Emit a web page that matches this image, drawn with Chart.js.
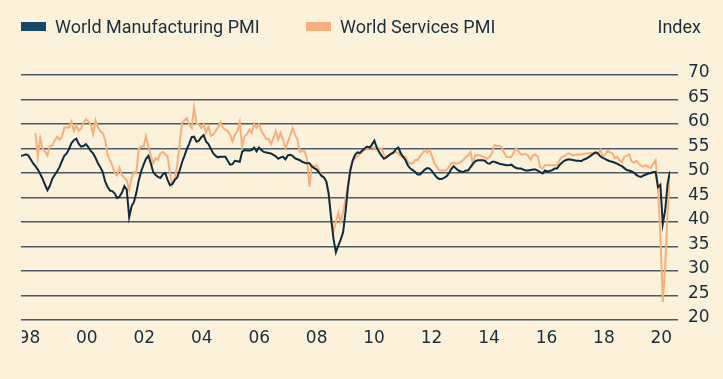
<!DOCTYPE html>
<html lang="en">

<head>
    <meta charset="UTF-8">
    <title>World Manufacturing and Services PMI</title>
    <script src="https://cdn.jsdelivr.net/npm/chart.js"></script>
    <style>
        body {
            margin: 0;
            background: #fcf2dc;
        }

        #wrap {
            position: relative;
            width: 723px;
            height: 379px;
        }

        .key {
            position: absolute;
            top: 16px;
            font-family: Roboto, sans-serif;
            font-size: 18px;
            line-height: 22px;
            color: #1b2e3f;
            white-space: nowrap;
        }

        .swatch {
            position: absolute;
            top: 22px;
            width: 25px;
            height: 9px;
        }
    </style>
</head>

<body>
    <div id="wrap">
        <canvas id="pmiChart" width="723" height="379"></canvas>
        <div class="swatch" style="left:21px;background:#17486a"></div>
        <div class="key" style="left:55px">World Manufacturing PMI</div>
        <div class="swatch" style="left:306px;background:#f7b07c"></div>
        <div class="key" style="left:340px">World Services PMI</div>
        <div class="key" style="right:22px">Index</div>
    </div>

    <script>
        // monthly values, Jan 1998 .. Jul 2020
        const mfgPmi = [
            53.5, 53.6, 53.8, 53.6, 52.8, 52.0, 51.4, 50.7, 49.8, 48.8, 47.6, 46.5,
            47.4, 48.8, 49.6, 50.3, 51.2, 52.4, 53.5, 54.0, 54.9, 56.1, 56.7, 57.0,
            56.0, 55.4, 55.5, 55.9, 55.3, 54.5, 54.0, 53.1, 52.0, 51.2, 50.2, 48.3,
            47.2, 46.4, 46.3, 45.8, 44.9, 45.2, 46.0, 47.3, 46.6, 41.0, 43.2, 44.1,
            46.0, 48.5, 50.3, 51.7, 52.9, 53.5, 52.0, 50.2, 49.6, 49.2, 49.0, 49.7,
            50.0, 48.6, 47.5, 47.8, 48.6, 49.1, 50.5, 52.2, 53.5, 54.9, 56.0, 57.3,
            57.4, 56.4, 56.6, 57.3, 57.7, 56.4, 55.9, 54.9, 54.0, 53.5, 53.2, 53.3,
            53.3, 53.3, 52.5, 51.7, 51.8, 52.5, 52.4, 52.3, 54.3, 54.7, 54.6, 54.6,
            54.7, 55.2, 54.4, 55.2, 54.7, 54.3, 54.2, 54.1, 54.0, 53.7, 53.4, 52.9,
            53.2, 53.3, 52.8, 53.6, 53.7, 53.5, 53.0, 52.8, 52.6, 52.3, 52.1, 52.0,
            52.0, 51.3, 51.0, 50.7, 50.1, 49.4, 49.1, 48.3, 45.8, 40.8, 36.6, 33.8,
            35.2, 36.4, 37.9, 42.0, 47.0, 50.5, 52.6, 53.7, 54.2, 54.1, 54.6, 55.0,
            55.4, 55.2, 55.8, 56.6, 55.2, 54.3, 53.5, 52.9, 53.2, 53.6, 53.9, 54.2,
            54.9, 55.2, 54.0, 53.3, 52.6, 51.5, 50.9, 50.6, 50.2, 49.7, 49.7, 50.2,
            50.7, 51.0, 50.9, 50.4, 49.7, 49.1, 48.8, 48.8, 49.0, 49.3, 49.9, 50.8,
            51.4, 50.9, 50.5, 50.3, 50.2, 50.5, 50.5, 51.2, 51.9, 52.4, 52.6, 52.6,
            52.6, 52.5, 52.0, 51.9, 52.3, 52.3, 52.1, 51.9, 51.8, 51.7, 51.6, 51.6,
            51.7, 51.3, 51.0, 50.9, 50.9, 50.7, 50.5, 50.5, 50.6, 50.7, 50.7, 50.5,
            50.2, 49.9, 50.5, 50.3, 50.4, 50.6, 50.9, 50.9, 51.6, 52.1, 52.5, 52.7,
            52.8, 52.7, 52.6, 52.5, 52.5, 52.4, 52.7, 52.9, 53.2, 53.5, 53.9, 54.2,
            54.0, 53.4, 53.1, 52.9, 52.6, 52.4, 52.3, 52.1, 51.9, 51.6, 51.4, 51.0,
            50.6, 50.5, 50.3, 50.1, 49.6, 49.3, 49.2, 49.5, 49.7, 49.9, 50.0, 50.2,
            50.2, 47.1, 47.6, 39.6, 42.4, 47.8, 50.3
        ];

        const servicesPmi = [
            null, null, null, null, null, null, 58.2, 53.4, 57.1, 54.9, 54.4, 53.6,
            55.5, 55.6, 56.6, 57.4, 56.8, 57.3, 59.3, 59.3, 59.3, 60.5, 58.6, 59.7,
            58.6, 59.1, 60.2, 61.0, 60.5, 59.9, 57.9, 60.8, 59.4, 58.5, 58.2, 56.8,
            53.8, 52.6, 51.5, 50.0, 49.5, 51.1, 49.5, 49.0, 48.5, 46.5, 49.0, 50.2,
            50.1, 55.0, 55.4, 55.4, 57.5, 55.4, 53.6, 52.0, 53.0, 52.7, 54.0, 54.3,
            53.8, 53.4, 49.8, 47.6, 49.0, 51.6, 56.0, 60.2, 60.7, 61.2, 59.9, 59.2,
            63.4, 60.2, 59.9, 59.2, 60.0, 58.2, 59.5, 57.6, 57.8, 58.6, 59.4, 60.4,
            59.3, 58.8, 58.6, 57.8, 56.5, 57.8, 58.5, 60.4, 55.2, 57.5, 57.9, 58.8,
            58.2, 60.0, 59.2, 60.0, 58.6, 57.8, 56.9, 57.0, 55.9, 57.1, 58.6, 56.8,
            58.2, 56.8, 55.1, 56.3, 57.7, 59.2, 57.8, 56.8, 54.3, 54.5, 54.4, 52.8,
            47.2, 51.6, 51.3, 51.6, 50.6, 49.6, 49.2, 48.3, 45.6, 41.5, 38.0, 40.0,
            41.9, 40.0, 42.0, 44.6, 47.5, 50.9, 52.4, 53.0, 53.4, 53.9, 54.4, 54.7,
            55.0, 55.2, 55.3, 55.1, 55.0, 55.0, 55.0, 53.6, 53.3, 53.5, 54.1, 54.2,
            54.3, 54.0, 53.5, 53.2, 53.3, 52.2, 51.9, 52.0, 52.7, 52.6, 53.4, 54.0,
            54.7, 54.2, 54.7, 53.4, 52.0, 51.3, 50.5, 50.5, 50.5, 50.6, 51.2, 52.0,
            52.1, 51.9, 52.0, 52.2, 52.7, 53.2, 53.6, 54.3, 51.8, 53.6, 53.6, 53.6,
            53.4, 53.2, 52.9, 53.3, 54.1, 55.7, 55.5, 55.5, 55.3, 54.1, 53.3, 53.2,
            53.3, 54.2, 55.0, 54.4, 53.8, 53.8, 53.9, 53.5, 52.7, 53.6, 53.8, 53.3,
            51.2, 50.9, 51.6, 51.6, 51.6, 51.6, 51.6, 51.6, 52.6, 53.3, 53.4, 53.8,
            54.0, 53.7, 53.6, 53.8, 53.8, 53.8, 53.9, 54.0, 54.0, 54.1, 54.0, 54.0,
            54.0, 54.7, 53.4, 53.7, 54.5, 54.2, 54.0, 53.0, 53.3, 52.6, 52.3, 53.3,
            53.5, 53.8, 52.4, 52.1, 52.5, 51.9, 51.5, 51.3, 51.6, 51.2, 51.0, 51.9,
            52.6, 47.1, 37.0, 23.7, 31.0, 42.0, 50.3
        ];

        const yearLabels = ['98', '00', '02', '04', '06', '08', '10', '12', '14', '16', '18', '20'];

        const textColor = '#1b2e3f';
        const bgColor = '#fcf2dc';

        // the reference crops the first year label at the plot edge
        const clipLeft = {
            id: 'clipLeft',
            afterDraw(chart) {
                const c = chart.ctx;
                c.save();
                c.fillStyle = bgColor;
                c.fillRect(0, chart.chartArea.bottom + 2, chart.chartArea.left + 1, 40);
                c.restore();
            }
        };

        new Chart(document.getElementById('pmiChart').getContext('2d'), {
            type: 'line',
            data: {
                datasets: [
                    {
                        label: 'World Manufacturing PMI',
                        data: mfgPmi.map((v, i) => ({ x: i, y: v })),
                        borderColor: '#0f2b40',
                        borderWidth: 2,
                        pointRadius: 0
                    },
                    {
                        label: 'World Services PMI',
                        data: servicesPmi.map((v, i) => ({ x: i, y: v })),
                        borderColor: '#f7b07c',
                        borderWidth: 2,
                        pointRadius: 0
                    }
                ]
            },
            options: {
                responsive: false,
                animation: false,
                layout: { padding: { left: 21, top: 75, right: 0, bottom: 0 } },
                plugins: {
                    legend: { display: false },
                    tooltip: { enabled: false }
                },
                scales: {
                    x: {
                        type: 'linear',
                        min: 0,
                        max: 270,
                        grid: { display: false },
                        border: { display: false },
                        afterBuildTicks: scale => {
                            scale.ticks = yearLabels.map((l, i) => ({ value: 3.5 + 23.9 * i }));
                        },
                        ticks: {
                            callback: (v, i) => yearLabels[i],
                            font: { family: 'DejaVu Sans', size: 17 },
                            color: textColor,
                            padding: 0,
                            maxRotation: 0,
                            autoSkip: false
                        },
                        afterFit: scale => { scale.height = 59; }
                    },
                    y: {
                        position: 'right',
                        min: 20,
                        max: 70,
                        ticks: {
                            stepSize: 5,
                            padding: 10,
                            // second empty line lifts the label a little above its rule
                            callback: v => [v, ''],
                            font: { family: 'DejaVu Sans', size: 17, lineHeight: 0.25 },
                            color: textColor
                        },
                        grid: { color: '#4b5a67', lineWidth: 1.5 },
                        border: { display: false },
                        afterFit: scale => { scale.width = 53; }
                    }
                }
            },
            plugins: [clipLeft]
        });
    </script>
</body>

</html>
